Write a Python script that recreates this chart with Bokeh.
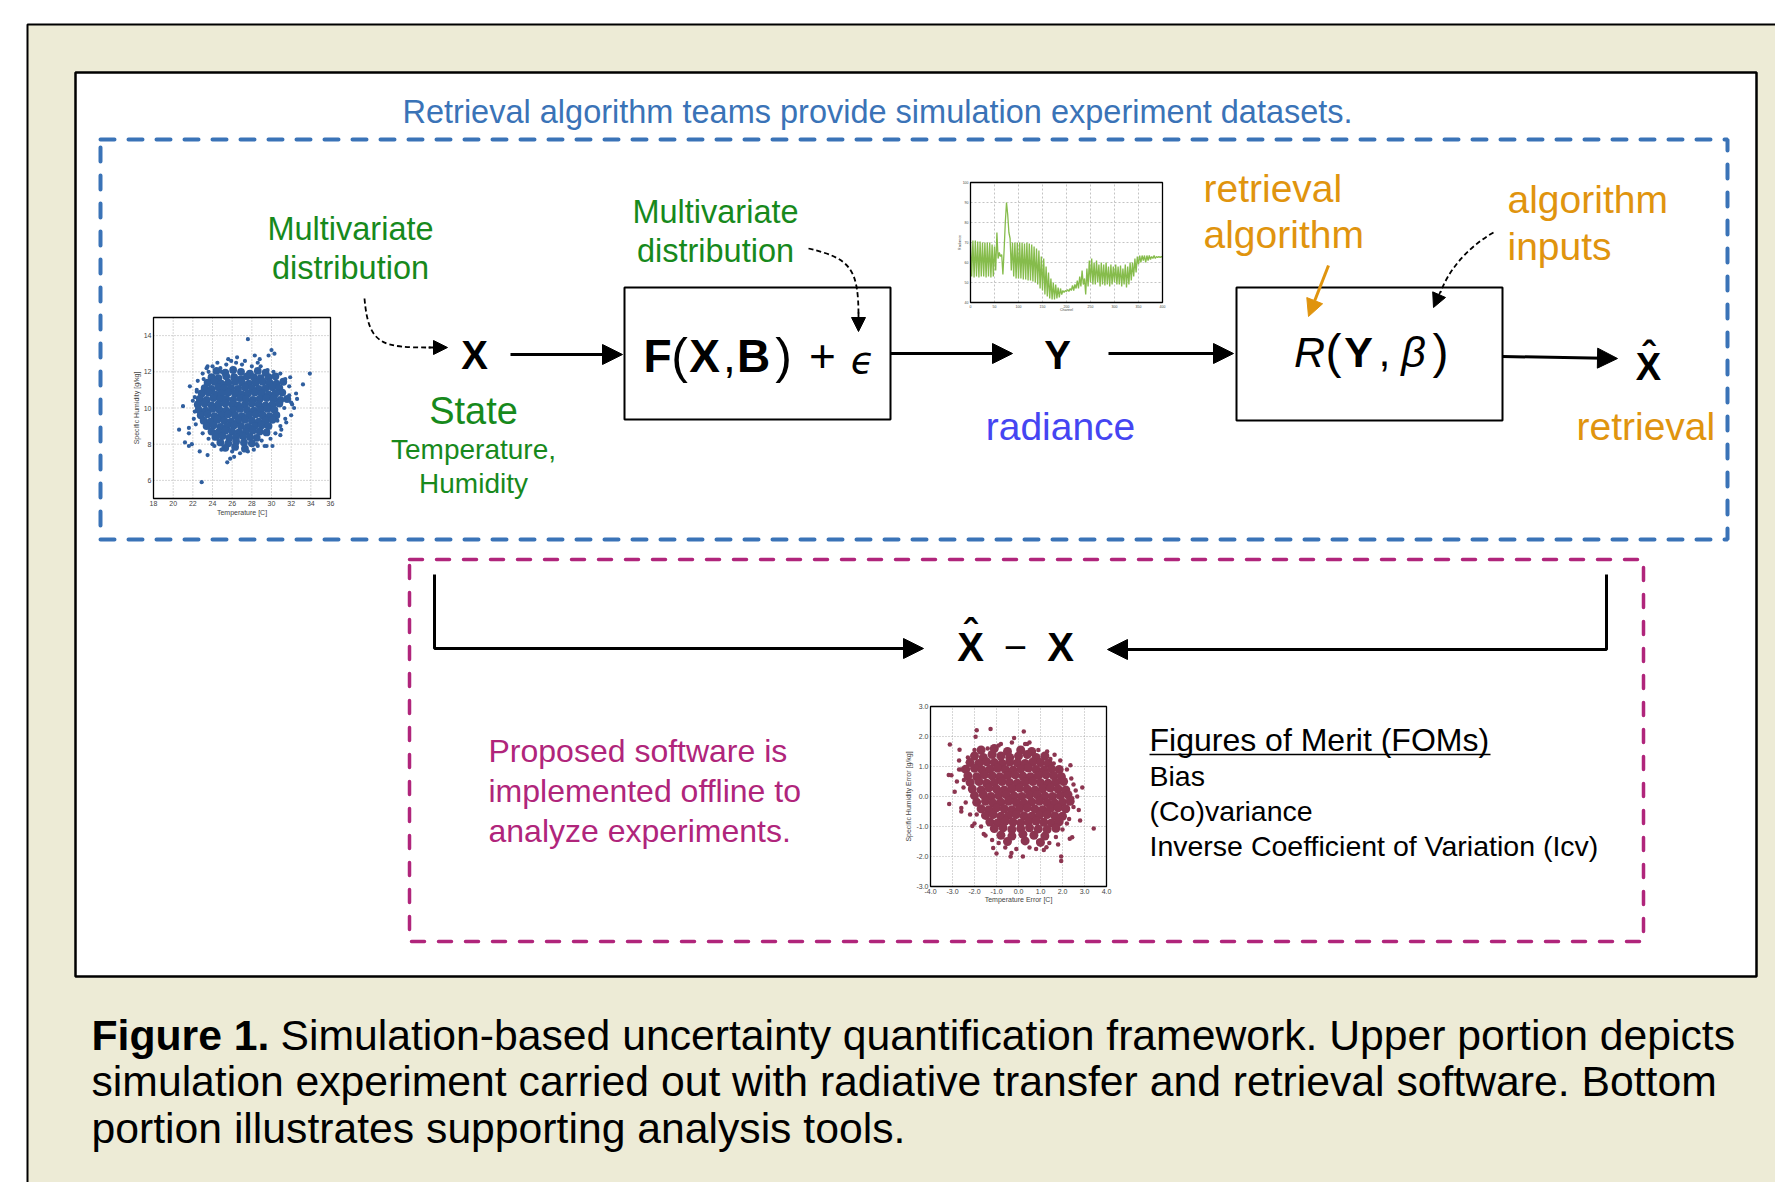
import math
from bokeh.plotting import figure
from bokeh.models import Range1d, Arrow, NormalHead
from bokeh.core.properties import value
from bokeh.embed import file_html
from bokeh.resources import INLINE

# ---------------- data ----------------
# Inset 1: state samples, temperature [C] vs specific humidity [g/kg]
state_temp_ticks = [18, 20, 22, 24, 26, 28, 30, 32, 34, 36]
state_hum_ticks = [6, 8, 10, 12, 14]
state_temp_core = [
    24.4, 25.3, 26.1, 26.9, 27.8, 28.6, 29.4,
    23.9, 24.6, 25.4, 26.2, 26.9, 27.5, 28.2, 28.9, 29.7, 30.4,
    23.5, 24.2, 24.9, 25.6, 26.3, 27.0, 27.7, 28.4, 29.1, 29.8, 30.5, 31.2,
    23.2, 23.9, 24.6, 25.2, 25.9, 26.6, 27.3, 28.0, 28.7, 29.4, 30.1, 30.8,
    22.9, 23.6, 24.3, 24.9, 25.6, 26.3, 27.0, 27.6, 28.3, 29.0, 29.7, 30.4, 31.1,
    22.7, 23.4, 24.1, 24.8, 25.4, 26.1, 26.8, 27.4, 28.1, 28.8, 29.5, 30.2, 30.9, 31.6,
    22.5, 23.2, 23.9, 24.6, 25.3, 26.0, 26.6, 27.3, 28.0, 28.7, 29.4, 30.1, 30.8,
    22.6, 23.3, 24.0, 24.7, 25.4, 26.1, 26.8, 27.5, 28.2, 28.9, 29.6, 30.3,
    22.8, 23.5, 24.2, 24.9, 25.6, 26.3, 27.0, 27.7, 28.4, 29.1, 29.8, 30.5,
    23.1, 23.8, 24.5, 25.2, 25.9, 26.6, 27.3, 28.0, 28.7, 29.4, 30.1,
    23.4, 24.1, 24.8, 25.5, 26.2, 26.9, 27.6, 28.3, 29.0, 29.7,
    23.9, 24.6, 25.3, 26.0, 26.7, 27.4, 28.1, 28.8, 29.5,
    24.3, 25.0, 25.7, 26.4, 27.1, 27.8, 28.5,
    24.8, 25.6, 26.4, 27.2, 28.0,
    25.3, 26.3, 27.3,
]
state_hum_core = [
    12.05, 11.95, 12.1, 12.0, 11.9, 12.05, 11.95,
    11.7, 11.65, 11.75, 11.7, 11.6, 11.75, 11.7, 11.65, 11.7, 11.75,
    11.4, 11.45, 11.35, 11.4, 11.45, 11.4, 11.35, 11.4, 11.45, 11.4, 11.35, 11.45,
    11.1, 11.05, 11.15, 11.1, 11.1, 11.05, 11.15, 11.1, 11.05, 11.1, 11.15, 11.1,
    10.8, 10.85, 10.75, 10.8, 10.85, 10.8, 10.75, 10.8, 10.85, 10.8, 10.75, 10.8, 10.85,
    10.5, 10.45, 10.55, 10.5, 10.5, 10.45, 10.55, 10.5, 10.45, 10.5, 10.55, 10.5, 10.45, 10.5,
    10.2, 10.25, 10.15, 10.2, 10.25, 10.2, 10.15, 10.2, 10.25, 10.2, 10.15, 10.2, 10.25,
    9.9, 9.85, 9.95, 9.9, 9.85, 9.9, 9.95, 9.9, 9.85, 9.9, 9.95, 9.9,
    9.6, 9.65, 9.55, 9.6, 9.65, 9.6, 9.55, 9.6, 9.65, 9.6, 9.55, 9.6,
    9.3, 9.25, 9.35, 9.3, 9.25, 9.3, 9.35, 9.3, 9.25, 9.3, 9.35,
    9.0, 9.05, 8.95, 9.0, 9.05, 9.0, 8.95, 9.0, 9.05, 9.0,
    8.7, 8.65, 8.75, 8.7, 8.65, 8.7, 8.75, 8.7, 8.65,
    8.4, 8.45, 8.35, 8.4, 8.45, 8.4, 8.35,
    8.1, 8.05, 8.15, 8.1, 8.05,
    7.8, 7.85, 7.75,
]
state_temp_edge = [27.6, 22.9, 21.0, 20.6, 33.9, 33.2, 30.0, 30.3, 29.7, 28.3, 28.8, 25.6, 25.9,
                   24.5, 23.5, 23.4, 25.5, 26.2, 25.8, 23.5, 22.7, 21.2, 21.6, 21.9, 21.6, 21.6,
                   21.7, 22.4, 29.5, 30.1, 30.9, 32.1, 32.3, 32.6, 32.5, 31.9, 31.8, 31.1, 28.6,
                   28.2, 27.2, 22.1, 22.2, 31.4, 30.9, 27.0, 28.0, 24.0, 29.0, 32.0,
                   22.0, 22.2, 22.3, 22.5, 23.0, 23.0, 23.6, 24.0, 24.8, 25.4, 26.4, 27.3, 28.9,
                   29.6, 30.2, 30.9, 31.4, 31.8, 32.0, 31.3, 31.5, 31.0, 30.4, 29.9, 29.3, 28.5,
                   27.6, 26.8, 26.0, 24.9, 24.2, 23.8, 22.9, 22.4, 23.1, 31.0, 31.6, 30.6, 26.5,
                   28.6, 24.9, 23.6]
state_hum_edge = [13.8, 5.9, 10.1, 8.8, 11.9, 11.3, 13.2, 13.0, 12.9, 12.9, 12.7, 12.7, 12.6,
                  12.5, 12.3, 12.2, 7.0, 7.3, 7.2, 7.4, 7.6, 8.1, 7.9, 8.0, 8.6, 8.9,
                  11.2, 11.0, 7.9, 7.9, 8.5, 10.2, 10.0, 10.5, 10.8, 11.7, 11.2, 11.4, 7.9,
                  7.7, 7.9, 9.4, 10.6, 9.4, 9.0, 12.4, 12.3, 8.0, 8.2, 9.6,
                  10.4, 9.8, 9.1, 11.5, 11.9, 8.6, 8.3, 12.3, 12.2, 12.4, 12.5, 12.6, 12.3,
                  12.1, 12.0, 11.9, 11.6, 10.7, 10.3, 10.0, 9.2, 8.8, 8.6, 8.3, 7.9, 8.0,
                  7.6, 7.5, 7.6, 7.7, 7.9, 8.8, 9.4, 10.9, 11.6, 10.9, 10.4, 9.3, 12.8,
                  12.5, 12.0, 12.0]

# Inset 2: simulated radiance spectrum
spec_channel_ticks = [0, 50, 100, 150, 200, 250, 300, 350, 400]
spec_rad_ticks = [40, 50, 60, 70, 80, 90, 100]
spec_radiance = [
    70, 53, 71, 52.5, 71, 53, 70.5, 52.5, 70.5, 53, 70, 53, 70, 52.5, 70, 53, 70, 52.5, 69, 53,
    68, 56, 75, 62, 65, 63, 64, 54, 66, 80, 90, 84, 75, 72, 56, 70, 53, 70, 52, 70,
    52, 70, 52, 70, 51.5, 69.5, 51.5, 70, 51, 69.5, 51, 69, 50.5, 68, 50, 67, 49, 66, 47, 63,
    46, 62, 44, 58, 43, 55, 42, 52, 41.5, 50, 41.5, 49, 42, 47.5, 42.5, 47, 44, 46, 45, 46,
    45.5, 46.5, 45.5, 47, 46, 48.5, 46, 49, 47, 51, 47, 53, 48, 56, 49, 52, 44, 57, 48, 61,
    50, 62, 49, 60, 49, 61, 50, 59, 48, 60, 49, 59, 48.5, 60, 49, 58, 48, 59, 49, 58,
    50, 59, 49, 58, 49, 58.5, 48, 57, 49, 59, 47.5, 58, 49, 60, 51, 60, 53, 62, 55, 63,
    59, 63.5, 60, 63.5, 61, 63.5, 60, 63.5, 61, 63.5, 61.5, 63, 62, 63.5, 62, 63, 62.5, 63, 62.5, 63,
    62.5,
]
spec_channel = [i * 2.5 for i in range(len(spec_radiance))]

# Inset 3: retrieval errors
err_temp_ticks = [-4.0, -3.0, -2.0, -1.0, 0.0, 1.0, 2.0, 3.0, 4.0]
err_hum_ticks = [-3.0, -2.0, -1.0, 0.0, 1.0, 2.0, 3.0]
err_temp_core = [
    -1.7, -1.1, -0.5, 0.1, 0.6,
    -2.0, -1.6, -1.2, -0.8, -0.4, 0.0, 0.4, 0.8, 1.2,
    -2.2, -1.8, -1.45, -1.1, -0.75, -0.4, -0.05, 0.3, 0.65, 1.0, 1.35,
    -2.4, -2.0, -1.65, -1.3, -0.95, -0.6, -0.25, 0.1, 0.45, 0.8, 1.15, 1.5, 1.85,
    -2.3, -1.9, -1.55, -1.2, -0.85, -0.5, -0.15, 0.2, 0.55, 0.9, 1.25, 1.6, 1.95,
    -2.2, -1.8, -1.45, -1.1, -0.75, -0.4, -0.05, 0.3, 0.65, 1.0, 1.35, 1.7, 2.05,
    -2.1, -1.7, -1.35, -1.0, -0.65, -0.3, 0.05, 0.4, 0.75, 1.1, 1.45, 1.8, 2.15,
    -2.0, -1.6, -1.25, -0.9, -0.55, -0.2, 0.15, 0.5, 0.85, 1.2, 1.55, 1.9, 2.25,
    -1.9, -1.5, -1.15, -0.8, -0.45, -0.1, 0.25, 0.6, 0.95, 1.3, 1.65, 2.0, 2.35,
    -1.7, -1.35, -1.0, -0.65, -0.3, 0.05, 0.4, 0.75, 1.1, 1.45, 1.8, 2.15,
    -1.5, -1.15, -0.8, -0.45, -0.1, 0.25, 0.6, 0.95, 1.3, 1.65, 2.0,
    -1.3, -0.95, -0.6, -0.25, 0.1, 0.45, 0.8, 1.15, 1.5, 1.85,
    -1.1, -0.7, -0.3, 0.1, 0.5, 0.9, 1.3, 1.7,
    -0.8, -0.3, 0.2, 0.7, 1.2,
    -0.5, 0.3, 1.0,
]
err_hum_core = [
    1.55, 1.6, 1.5, 1.55, 1.5,
    1.35, 1.3, 1.4, 1.35, 1.3, 1.35, 1.4, 1.3, 1.35,
    1.13, 1.1, 1.16, 1.13, 1.1, 1.15, 1.12, 1.1, 1.15, 1.13, 1.1,
    0.91, 0.94, 0.88, 0.91, 0.94, 0.9, 0.88, 0.92, 0.95, 0.9, 0.88, 0.92, 0.9,
    0.69, 0.66, 0.72, 0.69, 0.66, 0.7, 0.72, 0.68, 0.66, 0.7, 0.72, 0.69, 0.66,
    0.47, 0.5, 0.44, 0.47, 0.5, 0.46, 0.44, 0.48, 0.5, 0.46, 0.44, 0.47, 0.5,
    0.25, 0.22, 0.28, 0.25, 0.22, 0.26, 0.28, 0.24, 0.22, 0.26, 0.28, 0.25, 0.22,
    0.03, 0.06, 0.0, 0.03, 0.06, 0.02, 0.0, 0.04, 0.06, 0.02, 0.0, 0.03, 0.06,
    -0.19, -0.16, -0.22, -0.19, -0.16, -0.2, -0.22, -0.18, -0.16, -0.2, -0.22, -0.19, -0.16,
    -0.41, -0.44, -0.38, -0.41, -0.44, -0.4, -0.38, -0.42, -0.44, -0.4, -0.38, -0.41,
    -0.63, -0.6, -0.66, -0.63, -0.6, -0.64, -0.66, -0.62, -0.6, -0.64, -0.66,
    -0.85, -0.88, -0.82, -0.85, -0.88, -0.84, -0.82, -0.86, -0.88, -0.84,
    -1.07, -1.04, -1.1, -1.07, -1.04, -1.08, -1.1, -1.06,
    -1.29, -1.32, -1.26, -1.29, -1.32,
    -1.5, -1.48, -1.53,
]
err_temp_edge = [0.24, -1.27, -1.9, -1.95, -3.12, -2.68, -3.17, -3.05, -3.15, -2.9, -2.6, -2.1,
                 3.42, 1.94, 1.94, -0.36, -0.32, 2.36, 2.67, 2.44, 2.74, 2.44, 2.33, 1.27, 1.15,
                 -1.15, -1.58, 1.64, 1.45, -2.3, -2.48, 0.39, -0.2, 0.5, -2.7, 2.5, 2.2, -1.9,
                 0.9, -0.9,
                 -2.6, -2.5, -2.4, -2.2, -2.0, -1.7, -1.5, -1.2, -0.9, -0.6, -0.1, 0.5, 0.8,
                 1.4, 1.7, 2.0, 2.3, 2.5, 2.6, 2.4, 2.2, 1.9, 1.6, 1.3, 0.9, 0.3, -0.3, -0.8,
                 -1.4, -2.0, -2.3, -2.7, -2.8, -2.6, 1.8, 0.2, -1.0, 2.8, 2.9]
err_hum_edge = [2.17, 2.25, 2.21, 1.99, 1.73, 1.56, 0.72, 0.71, -0.25, 0.16, -0.38, -0.98,
                -1.07, -2.0, -2.15, -2.0, -1.88, 1.04, 0.0, -0.06, -0.45, -1.36, -1.41, -1.69, -1.78,
                -1.72, -1.25, 1.39, 1.25, 1.14, 0.55, 1.75, 1.95, 1.8, 0.9, 0.4, -0.9, -0.6,
                -1.5, 1.7,
                0.9, 0.3, -0.2, -0.6, -0.9, -1.0, -1.3, -1.45, -1.55, -1.7, -1.75, -1.7, -1.75,
                -1.55, -1.35, -1.1, -0.75, -0.35, 0.2, 0.6, 0.9, 1.2, 1.1, 1.5, 1.55, 1.75, 1.8, 1.75,
                1.6, 1.55, 1.3, 1.2, 0.5, -0.5, -1.6, -2.0, -1.9, -0.8, 0.3]

# ---------------- styling ----------------
FONT = "Liberation Sans"
GREEN = "#17891C"
ORANGE = "#E0940E"
BLUE = "#3A73B7"
RADBLUE = "#4545F2"
MAGENTA = "#B0257B"
BEIGE = "#EDEBD6"

W, H = 1775, 1182
X0, Y0 = 0, 0

p = figure(width=W, height=H, x_range=Range1d(X0, X0 + W), y_range=Range1d(Y0 + H, Y0),
           output_backend="svg", toolbar_location=None, min_border=0,
           x_axis_type=None, y_axis_type=None)
p.outline_line_color = None
p.background_fill_color = "white"
p.border_fill_color = "white"


def txt(x, y, s, size, color="black", align="left", style="normal", font=FONT,
        baseline="middle", angle=0.0, rng=None, xo=0, yo=0):
    kw = {}
    if rng:
        kw = dict(x_range_name=rng, y_range_name=rng)
    p.text(x=[x], y=[y], text=[s], text_font=value(font), text_font_size=f"{size}px",
           text_color=color, text_align=align, text_baseline=baseline,
           text_font_style=style, angle=angle, x_offset=xo, y_offset=yo, **kw)


def arrow(x0, y0, x1, y1, color="black", w=3, size=20, dash="solid"):
    p.add_layout(Arrow(end=NormalHead(size=size, fill_color=color, line_color=color),
                       x_start=x0, y_start=y0, x_end=x1, y_end=y1,
                       line_color=color, line_width=w, line_dash=dash))


def add_inset(name, xlo, xhi, ylo, yhi, pl, pr, pt, pb):
    sx = (pr - pl) / (xhi - xlo)
    p.extra_x_ranges[name] = Range1d(xlo - (pl - X0) / sx, xhi + (X0 + W - pr) / sx)
    sy = (pb - pt) / (yhi - ylo)
    p.extra_y_ranges[name] = Range1d(ylo - (Y0 + H - pb) / sy, yhi + (pt - Y0) / sy)


# ---------------- frames ----------------
p.quad(left=[27], right=[1820], top=[24], bottom=[1250], fill_color=BEIGE,
       line_color="black", line_width=2)
p.quad(left=[75], right=[1756], top=[72], bottom=[976], fill_color="white",
       line_color="black", line_width=2.5)
p.quad(left=[100], right=[1727], top=[139], bottom=[539], fill_color=None,
       line_color=BLUE, line_width=4, line_dash="14 14", line_cap="round")
p.quad(left=[409], right=[1643], top=[559], bottom=[941], fill_color=None,
       line_color=MAGENTA, line_width=3.5, line_dash="13 14", line_cap="round")

# ---------------- upper texts (y = visual centre) ----------------
txt(402, 111, "Retrieval algorithm teams provide simulation experiment datasets.", 32.5, BLUE)
txt(350, 228, "Multivariate", 32.5, GREEN, "center")
txt(350, 267, "distribution", 32.5, GREEN, "center")
txt(715, 211, "Multivariate", 32.5, GREEN, "center")
txt(715, 250, "distribution", 32.5, GREEN, "center")
txt(474, 354, "X", 40, "black", "center", "bold")
txt(473, 410, "State", 38, GREEN, "center")
txt(473, 449, "Temperature,", 28, GREEN, "center")
txt(473, 483, "Humidity", 28, GREEN, "center")

# F(X, B) + eps box
p.quad(left=[624], right=[890], top=[287], bottom=[419], fill_color=None,
       line_color="black", line_width=2)
FY = 355
txt(657, FY, "F", 46, "black", "center", "bold")
txt(679, FY, "(", 50, "black", "center")
txt(704, FY, "X", 46, "black", "center", "bold")
txt(729, FY, ",", 46, "black", "center")
txt(753, FY, "B", 46, "black", "center", "bold")
txt(783, FY, ")", 50, "black", "center")
txt(822, FY, "+", 46, "black", "center")
txt(862, FY + 4, "ϵ", 38, "black", "center", "italic", font="DejaVu Sans")

txt(1057, 354, "Y", 40, "black", "center", "bold")
txt(1060, 426, "radiance", 39, RADBLUE, "center")

# R(Y, beta) box
p.quad(left=[1236], right=[1502], top=[287], bottom=[420], fill_color=None,
       line_color="black", line_width=2)
RY = 351
txt(1309, RY, "R", 43, "black", "center", "italic")
txt(1333, RY, "(", 48, "black", "center")
txt(1358, RY, "Y", 43, "black", "center", "bold")
txt(1384, RY, ",", 43, "black", "center")
txt(1413, RY, "β", 43, "black", "center", "italic")
txt(1440, RY, ")", 48, "black", "center")

txt(1203, 188, "retrieval", 39, ORANGE)
txt(1203, 234, "algorithm", 39, ORANGE)
txt(1507, 199, "algorithm", 39, ORANGE)
txt(1507, 246, "inputs", 39, ORANGE)

txt(1648, 366, "X", 38, "black", "center", "bold")
txt(1648, 355, "ˆ", 38, "black", "center", "bold")
txt(1576, 426, "retrieval", 39, ORANGE)

# upper arrows
arrow(510, 354, 622, 354)
arrow(890, 353, 1012, 353)
arrow(1108, 353, 1233, 353)
arrow(1502, 356, 1617, 358)
arrow(1328, 265, 1308, 316, color=ORANGE, w=3, size=17)

# dashed curved arrows
p.bezier(x0=[364], y0=[298], x1=[430], y1=[347], cx0=[368], cy0=[345], cx1=[382], cy1=[347],
         line_color="black", line_width=1.8, line_dash="5 3")
arrow(428, 347, 447, 347, w=1.8, size=14)
p.bezier(x0=[808], y0=[248], x1=[858], y1=[316], cx0=[850], cy0=[258], cx1=[858], cy1=[268],
         line_color="black", line_width=1.8, line_dash="5 3")
arrow(858, 312, 858, 331, w=1.8, size=14)
p.bezier(x0=[1493], y0=[232], x1=[1440], y1=[292], cx0=[1465], cy0=[248], cx1=[1447], cy1=[272],
         line_color="black", line_width=1.8, line_dash="5 3")
arrow(1440, 291, 1433, 307, w=1.8, size=14)

# ---------------- lower part ----------------
p.line(x=[434, 434, 905], y=[574, 648, 648], line_color="black", line_width=3)
arrow(900, 648, 923, 648)
p.line(x=[1606, 1606, 1125], y=[574, 649, 649], line_color="black", line_width=3)
arrow(1130, 649, 1107, 649)

txt(970, 646, "X", 40, "black", "center", "bold")
txt(970, 633, "ˆ", 40, "black", "center", "bold")
txt(1015, 646, "−", 40, "black", "center")
txt(1060, 646, "X", 40, "black", "center", "bold")

txt(488, 750, "Proposed software is", 32, MAGENTA)
txt(488, 790, "implemented offline to", 32, MAGENTA)
txt(488, 830, "analyze experiments.", 32, MAGENTA)

txt(1149, 739, "Figures of Merit (FOMs)", 32, "black")
p.segment(x0=[1149], y0=[754], x1=[1490], y1=[754], line_color="black", line_width=1.5)
txt(1149, 775, "Bias", 28.5, "black")
txt(1149, 810, "(Co)variance", 28.5, "black")
txt(1149, 845, "Inverse Coefficient of Variation (Icv)", 28.5, "black")

# caption
txt(91, 1034, "Figure 1.", 42.7, "black", style="bold")
txt(280, 1034, "Simulation-based uncertainty quantification framework. Upper portion depicts", 42.7, "black")
txt(91, 1080, "simulation experiment carried out with radiative transfer and retrieval software. Bottom", 42.7, "black")
txt(91, 1127, "portion illustrates supporting analysis tools.", 42.7, "black")


# ---------------- insets ----------------
def inset_frame(name, xlo, xhi, ylo, yhi, xt, yt, grid_dash, grid_color):
    p.quad(left=[xlo], right=[xhi], bottom=[ylo], top=[yhi], fill_color="white",
           line_color=None, x_range_name=name, y_range_name=name)
    p.segment(x0=xt, y0=[ylo] * len(xt), x1=xt, y1=[yhi] * len(xt), line_color=grid_color,
              line_width=0.8, line_dash=grid_dash, x_range_name=name, y_range_name=name)
    p.segment(x0=[xlo] * len(yt), y0=yt, x1=[xhi] * len(yt), y1=yt, line_color=grid_color,
              line_width=0.8, line_dash=grid_dash, x_range_name=name, y_range_name=name)


def inset_border(name, xlo, xhi, ylo, yhi, w):
    p.quad(left=[xlo], right=[xhi], bottom=[ylo], top=[yhi], fill_color=None,
           line_color="black", line_width=w, x_range_name=name, y_range_name=name)


def inset_labels(name, xlo, xhi, ylo, yhi, xt, yt, xlabs, ylabs, fs, xlabel, ylabel, xl_off, yl_off, col):
    p.text(x=xt, y=[ylo] * len(xt), text=xlabs, text_font=value(FONT), text_font_size=f"{fs}px",
           text_color=col, text_align="center", text_baseline="top", y_offset=2,
           x_range_name=name, y_range_name=name)
    p.text(x=[xlo] * len(yt), y=yt, text=ylabs, text_font=value(FONT), text_font_size=f"{fs}px",
           text_color=col, text_align="right", text_baseline="middle", x_offset=-2,
           x_range_name=name, y_range_name=name)
    txt((xlo + xhi) / 2, ylo, xlabel, fs, col, "center", baseline="top", rng=name, yo=xl_off)
    txt(xlo, (ylo + yhi) / 2, ylabel, fs, col, "center", baseline="middle",
        angle=math.pi / 2, rng=name, xo=-yl_off)


# inset 1: state scatter
add_inset("s1", 18, 36, 5, 15, 153, 330, 317, 498)
inset_frame("s1", 18, 36, 5, 15, state_temp_ticks, state_hum_ticks, "1 2", "#9a9a9a")
p.scatter(x=state_temp_core, y=state_hum_core, marker="circle", size=7.8, fill_color="#2F5E9E",
          line_color=None, x_range_name="s1", y_range_name="s1")
p.scatter(x=state_temp_edge, y=state_hum_edge, marker="circle", size=4.2, fill_color="#2F5E9E",
          line_color=None, x_range_name="s1", y_range_name="s1")
inset_border("s1", 18, 36, 5, 15, 1.3)
inset_labels("s1", 18, 36, 5, 15, state_temp_ticks, state_hum_ticks,
             [str(v) for v in state_temp_ticks], [str(v) for v in state_hum_ticks], 7,
             "Temperature [C]", "Specific Humidity [g/kg]", 10, 17, "#444444")

# inset 2: radiance spectrum
add_inset("s2", 0, 400, 40, 100, 970, 1162, 182, 302)
inset_frame("s2", 0, 400, 40, 100, spec_channel_ticks, spec_rad_ticks, "2 2", "#b5b5b5")
p.line(x=spec_channel, y=spec_radiance, line_color="#86BC4C", line_width=1.3,
       x_range_name="s2", y_range_name="s2")
inset_border("s2", 0, 400, 40, 100, 1.3)
inset_labels("s2", 0, 400, 40, 100, spec_channel_ticks, spec_rad_ticks,
             [str(v) for v in spec_channel_ticks], [str(v) for v in spec_rad_ticks], 3.5,
             "Channel", "Radiance", 5, 11, "#444444")

# inset 3: error scatter
add_inset("s3", -4, 4, -3, 3, 930, 1106, 706, 886)
inset_frame("s3", -4, 4, -3, 3, err_temp_ticks, err_hum_ticks, "1 2", "#9a9a9a")
p.scatter(x=err_temp_core, y=err_hum_core, marker="circle", size=9, fill_color="#8C3550",
          line_color=None, x_range_name="s3", y_range_name="s3")
p.scatter(x=err_temp_edge, y=err_hum_edge, marker="circle", size=4.5, fill_color="#8C3550",
          line_color=None, x_range_name="s3", y_range_name="s3")
inset_border("s3", -4, 4, -3, 3, 1.3)
inset_labels("s3", -4, 4, -3, 3, err_temp_ticks, err_hum_ticks,
             [f"{v:.1f}" for v in err_temp_ticks], [f"{v:.1f}" for v in err_hum_ticks], 7,
             "Temperature Error [C]", "Specific Humidity Error [g/kg]", 9, 22, "#444444")

open("out.html", "w").write(file_html(p, INLINE))
